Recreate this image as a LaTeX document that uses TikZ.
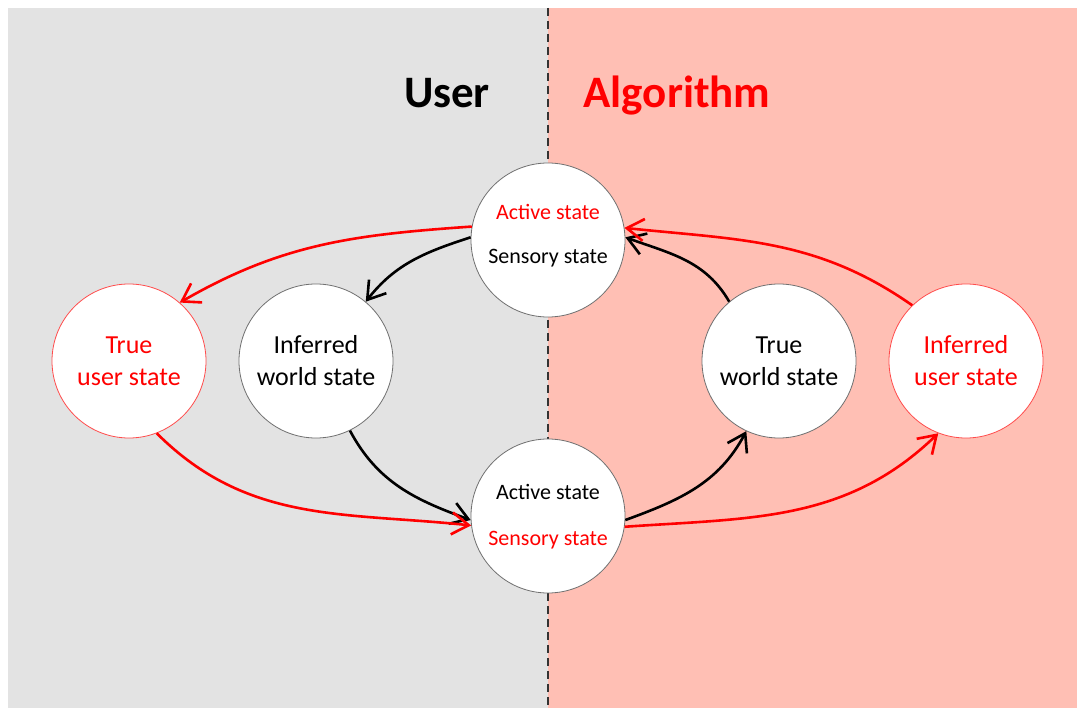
\documentclass[tikz,border=0pt]{standalone}
\usepackage{fontspec}
\setmainfont{Carlito}
\usetikzlibrary{arrows.meta}
\definecolor{usergray}{HTML}{E3E3E3}
\definecolor{algopink}{HTML}{FFBFB4}
\definecolor{rimgray}{HTML}{707070}
\definecolor{hotred}{HTML}{FF0000}
\tikzset{
  statecircle/.style={circle, fill=white, draw=rimgray, line width=0.8pt,
    minimum size=154pt, inner sep=0pt, align=center, font=\fontsize{26}{32}\selectfont},
  redcircle/.style={statecircle, draw=hotred!70, text=hotred},
  flow/.style={line width=2.6pt, -{Straight Barb[length=17pt,width=22pt,line width=2.6pt]}},
  blackflow/.style={flow, draw=black},
  redflow/.style={flow, draw=hotred},
  smalltext/.style={font=\fontsize{22}{26}\selectfont, inner sep=0pt},
  heading/.style={font=\bfseries\fontsize{45}{50}\selectfont, inner sep=0pt}
}
\begin{document}
\begin{tikzpicture}[x=1pt,y=-1pt]
  \useasboundingbox (0,0) rectangle (1077,708);
  % the two halves
  \fill[usergray] (8,8) rectangle (548,708);
  \fill[algopink] (548,8) rectangle (1077,708);
  \draw[black!80, line width=1.4pt, dash pattern=on 8pt off 5pt] (548,8) -- (548,708);

  % headings
  \node[heading, anchor=base] (userhead) at (447,108) {User};
  \node[heading, anchor=base, text=hotred] (algohead) at (677,108) {Algorithm};

  % states
  \node[statecircle] (top) at (548,240) {};
  \node[smalltext, text=hotred] (topact) at (548,212) {Active state};
  \node[smalltext] (topsens) at (548,258) {Sensory state};

  \node[statecircle] (bot) at (548,516) {};
  \node[smalltext] (botact) at (548,492) {Active state};
  \node[smalltext, text=hotred] (botsens) at (548,540) {Sensory state};

  \node[redcircle] (tus) at (129,361) {True\\user state};
  \node[statecircle] (iws) at (316,361) {Inferred\\world state};
  \node[statecircle] (tws) at (779,361) {True\\world state};
  \node[redcircle] (ius) at (966,361) {Inferred\\user state};

  % user side
  \draw[redflow] (top.170) to[out=184, in=30] (tus.49);
  \draw[blackflow] (top.178) to[out=198, in=52] (iws.50);
  \draw[blackflow] (iws.-64) to[out=-62, in=160] (bot.183);
  \draw[redflow] (tus.-69) to[out=-45, in=174] (bot.187);

  % algorithm side
  \draw[blackflow] (bot.-3) to[out=20, in=-118] (tws.-115);
  \draw[redflow] (bot.-8) to[out=4, in=-136] (ius.-111);
  \draw[blackflow] (tws.130) to[out=120, in=-20] (top.2);
  \draw[redflow] (ius.134) to[out=145, in=-6] (top.9);
\end{tikzpicture}
\end{document}
